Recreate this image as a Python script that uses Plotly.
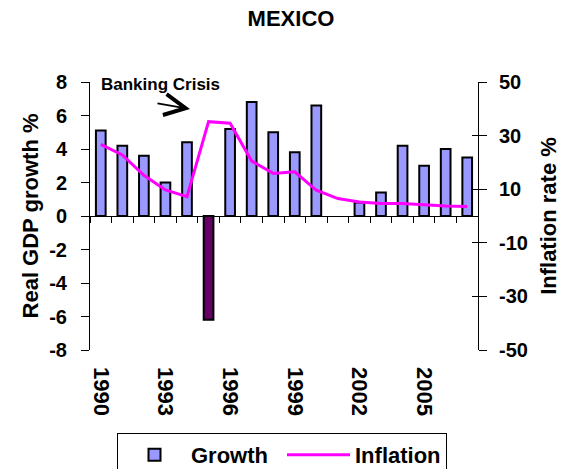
import plotly.graph_objects as go

years = list(range(1990, 2008))
growth = [5.1, 4.2, 3.6, 2.0, 4.4, -6.2, 5.2, 6.8, 5.0, 3.8, 6.6, 0.0, 0.8, 1.4, 4.2, 3.0, 4.0, 3.5]
inflation = [26.7, 22.8, 15.2, 9.7, 7.2, 35.2, 34.6, 20.5, 15.9, 16.5, 9.6, 6.5, 5.2, 4.7, 4.7, 4.1, 3.7, 3.5]
crisis_year = 1995
growth_ticks = [-8, -6, -4, -2, 0, 2, 4, 6, 8]
inflation_ticks = [-50, -30, -10, 10, 30, 50]
year_ticks = [1990, 1993, 1996, 1999, 2002, 2005]

BAR = "#9999FF"
CRISIS = "#660066"
LINE = "#FF00FF"
FONT = "Arial, Liberation Sans, sans-serif"

bar_colors = [CRISIS if y == crisis_year else BAR for y in years]
bar_outline = [0 if v == 0 else 2 for v in growth]

fig = go.Figure()
fig.add_trace(go.Bar(
    x=years, y=growth, name="Growth",
    marker=dict(color=bar_colors, line=dict(color="black", width=bar_outline)),
    width=0.45, xaxis="x", yaxis="y",
))
fig.add_trace(go.Scatter(
    x=years, y=inflation, name="Inflation", mode="lines",
    line=dict(color=LINE, width=3), xaxis="x2", yaxis="y2",
))
# invisible helper so the inner right-axis ticks get drawn
fig.add_trace(go.Scatter(
    x=years, y=inflation, mode="lines", line=dict(width=0, color="rgba(0,0,0,0)"),
    xaxis="x2", yaxis="y3", showlegend=False, hoverinfo="skip",
))

W, H = 566, 469
ml, mr, mt, mb = 90, 88, 82, 119
pw, ph = W - ml - mr, H - mt - mb

def px_x(p):
    return (p - ml) / pw

def px_y(p):
    return (H - mb - p) / ph

def bold(size):
    return dict(family=FONT, size=size, color="black", weight="bold")

fig.update_layout(
    width=W, height=H,
    margin=dict(l=ml, r=mr, t=mt, b=mb, autoexpand=False),
    paper_bgcolor="white", plot_bgcolor="white",
    font=dict(family=FONT, color="black"),
    title=dict(text="MEXICO", xref="paper", x=px_x(291), xanchor="center",
               yref="container", y=1 - 18 / H, yanchor="middle", font=bold(22)),
    showlegend=True,
    legend=dict(orientation="h", xref="paper", x=px_x(117), xanchor="left",
                yref="container", y=1 - 433 / H, yanchor="top",
                bordercolor="black", borderwidth=1, font=bold(22), bgcolor="white",
                itemwidth=63, entrywidth=86, traceorder="normal"),
    xaxis=dict(type="linear", range=[1989.5, 2007.5], tickmode="array", tickvals=year_ticks,
               ticktext=[str(y) for y in year_ticks],
               tickangle=90, showline=False, ticks="", showgrid=False, zeroline=False,
               tickfont=bold(22), ticklabelstandoff=16, automargin=False),
    xaxis2=dict(type="linear", overlaying="x", anchor="free", position=0.5,
                range=[1989.5, 2007.5], tickmode="linear", tick0=1989.5, dtick=1,
                ticks="outside", ticklen=6, tickcolor="black", showline=True, linecolor="black",
                linewidth=1, showticklabels=False, showgrid=False, zeroline=False,
                automargin=False),
    yaxis=dict(range=[-8, 8], tickmode="array", tickvals=growth_ticks,
               ticktext=[str(v) for v in growth_ticks], showline=True,
               linecolor="black", ticks="outside", ticklen=8, tickcolor="black",
               showgrid=False, zeroline=False, tickfont=bold(20), ticklabelstandoff=10,
               automargin=False,
               title=dict(text="Real GDP growth %", font=bold(22), standoff=4)),
    yaxis2=dict(range=[-50, 50], tickmode="array", tickvals=inflation_ticks,
                ticktext=[str(v) for v in inflation_ticks], overlaying="y",
                anchor="x2", side="right", showline=True, linecolor="black", ticks="outside",
                ticklen=8, tickcolor="black", showgrid=False, zeroline=False, tickfont=bold(20),
                ticklabelstandoff=8, automargin=False,
                title=dict(text="Inflation rate %", font=bold(22), standoff=13)),
    yaxis3=dict(range=[-50, 50], tickmode="array", tickvals=inflation_ticks, overlaying="y",
                anchor="x2", side="right", showline=False, ticks="inside", ticklen=6,
                tickcolor="black", showticklabels=False, showgrid=False, zeroline=False,
                automargin=False),
    annotations=[
        dict(text="Banking Crisis", xref="paper", yref="paper", x=px_x(160), y=px_y(84),
             xanchor="center", yanchor="middle", showarrow=False, font=bold(17)),
        dict(text="", xref="paper", yref="paper", x=px_x(190), y=px_y(109),
             ax=-34, ay=-6, showarrow=True, arrowhead=5, arrowsize=2.3, arrowwidth=1.8,
             arrowcolor="black"),
    ],
)

fig.write_html("out.html", config={"displayModeBar": False},
               post_script="document.body.style.margin='0';")
